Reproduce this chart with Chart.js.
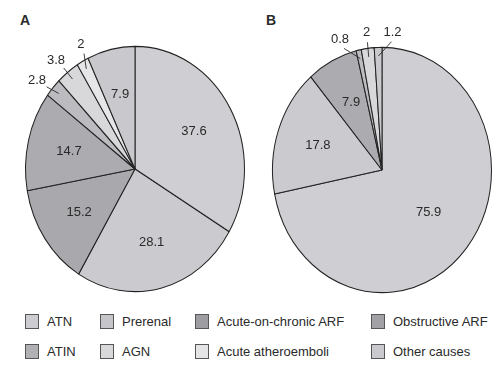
<!DOCTYPE html>
<html>
<head>
<meta charset="utf-8">
<script src="https://cdn.jsdelivr.net/npm/chart.js@4.4.1/dist/chart.umd.min.js"></script>
<style>
  html,body{margin:0;padding:0;background:#fff}
  #wrap{position:relative;width:500px;height:379px;overflow:hidden;font-family:"Liberation Sans",Arial,sans-serif;color:#2a2a2a}
  .box{position:absolute;top:0}
  .tag{position:absolute;top:12px;font-weight:bold;font-size:14px}
  #legend{position:absolute;left:25px;top:313px;display:grid;grid-template-columns:75px 95px 176px 120px;row-gap:14px;font-size:13px}
  .item{display:flex;align-items:center;height:16px;white-space:nowrap}
  .sw{width:14px;height:15px;border:1px solid #555;margin-right:8px;box-sizing:border-box}
</style>
</head>
<body>
<div id="wrap">
  <div class="tag" style="left:20px">A</div>
  <div class="tag" style="left:266px">B</div>
  <div class="box" style="left:0;width:250px;height:300px"><canvas id="pieA"></canvas></div>
  <div class="box" style="left:250px;width:250px;height:300px"><canvas id="pieB"></canvas></div>
  <div id="legend"></div>
</div>
<script>
categories = ["ATN","Prerenal","Acute-on-chronic ARF","Obstructive ARF","ATIN","AGN","Acute atheroemboli","Other causes"]
valuesA = [37.6, 28.1, 15.2, 14.7, 2.8, 3.8, 2, 7.9]
valuesB = [75.9, 17.8, 0, 7.9, 0.8, 2, 0, 1.2]
colors = ['#cfcfd3','#cbcbcf','#a9a9ad','#acacb0','#bcbcc0','#d8d8db','#e6e6e8','#c9c9cd']
swatches = ['#cdcdd1','#c6c6ca','#9e9ea2','#a2a2a6','#b1b1b5','#d8d8db','#e4e4e6','#cacace']

stretch = 1.12   // the pies in the picture are a bit taller than wide

// squash/stretch only the slices
ellipse = {
  id: 'ellipse',
  beforeDatasetsDraw(chart) {
    var a = chart.getDatasetMeta(0).data[0]
    var ctx = chart.ctx
    ctx.save()
    ctx.translate(a.x, a.y)
    ctx.scale(1, stretch)
    ctx.translate(-a.x, -a.y)
  },
  afterDatasetsDraw(chart) {
    chart.ctx.restore()
  }
}

// value labels, small slices get an outside label with a leader line
valueLabels = {
  id: 'valueLabels',
  afterDraw(chart) {
    var ctx = chart.ctx
    var vals = chart.data.datasets[0].data
    var arcs = chart.getDatasetMeta(0).data
    var outside = []
    ctx.save()
    ctx.font = '13px "Liberation Sans", Arial, sans-serif'
    ctx.fillStyle = '#2a2a2a'
    ctx.textAlign = 'center'
    ctx.textBaseline = 'middle'
    arcs.forEach((a, i) => {
      if (!vals[i]) return
      var mid = (a.startAngle + a.endAngle) / 2
      var R = a.outerRadius
      if (vals[i] >= 5) {
        var r = vals[i] > 50 ? 0.55 * R : 0.62 * R
        ctx.fillText(String(vals[i]), a.x + Math.cos(mid) * r, a.y + Math.sin(mid) * r * stretch)
      } else {
        outside.push({i: i, mid: mid, ang: mid, a: a})
      }
    })
    // spread the outside labels so they don't overlap
    var gap = 12 * Math.PI / 180
    if (outside.length > 1) {
      var c = outside.reduce((s, o) => s + o.mid, 0) / outside.length
      var n = outside.length
      outside.forEach((o, k) => {
        var want = c + (k - (n - 1) / 2) * gap
        o.ang = Math.abs(want - o.mid) > 0 ? want : o.mid
      })
    }
    ctx.strokeStyle = '#2a2a2a'
    ctx.lineWidth = 0.9
    outside.forEach(o => {
      var a = o.a, R = a.outerRadius
      var txt = String(vals[o.i])
      var w = ctx.measureText(txt).width, h = 12
      var px = a.x + Math.cos(o.ang) * R * 1.08
      var py = a.y + Math.sin(o.ang) * R * 1.08 * stretch
      var tx = px + Math.cos(o.ang) * w / 2
      var ty = py + Math.sin(o.ang) * h / 2
      ctx.fillText(txt, tx, ty)
      ctx.beginPath()
      ctx.moveTo(a.x + Math.cos(o.ang) * R * 1.05, a.y + Math.sin(o.ang) * R * 1.05 * stretch)
      ctx.lineTo(a.x + Math.cos(o.mid) * R * 0.93, a.y + Math.sin(o.mid) * R * 0.93 * stretch)
      ctx.stroke()
    })
    ctx.restore()
  }
}

function Draw(id, values, pad) {
  return new Chart(document.getElementById(id), {
    type: 'pie',
    data: {
      labels: categories,
      datasets: [{
        data: values,
        backgroundColor: colors,
        borderColor: '#222',
        borderWidth: 1
      }]
    },
    options: {
      responsive: true,
      maintainAspectRatio: false,
      animation: false,
      layout: {padding: pad},
      plugins: {legend: {display: false}, tooltip: {enabled: false}}
    },
    plugins: [ellipse, valueLabels]
  })
}

// chart areas 220 wide, centred on the pies of the picture
Draw('pieA', valuesA, {left: 25, right: 5, top: 44, bottom: 6})
Draw('pieB', valuesB, {left: 22, right: 8, top: 45, bottom: 5})

legend.innerHTML = categories.map((c, i) =>
  '<div class="item"><span class="sw" style="background:' + swatches[i] + '"></span>' + c + '</div>'
).join('')
</script>
</body>
</html>
